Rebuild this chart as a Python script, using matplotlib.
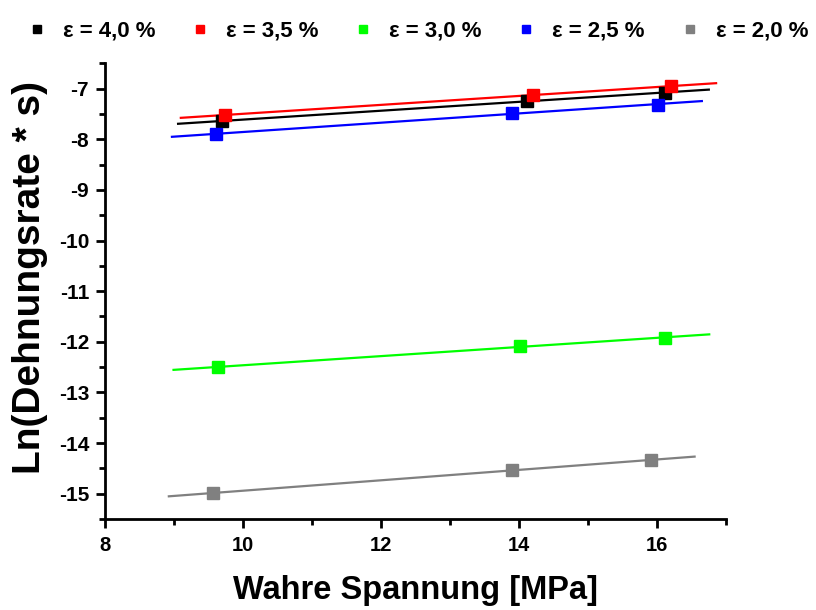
import numpy as np
import matplotlib
matplotlib.use("Agg")
import matplotlib.pyplot as plt
from matplotlib.ticker import MultipleLocator

plt.rcParams['font.family'] = ['Liberation Sans', 'DejaVu Sans']
plt.rcParams['font.weight'] = 'bold'
plt.rcParams['axes.unicode_minus'] = False

labels = ["ε = 4,0 %", "ε = 3,5 %", "ε = 3,0 %", "ε = 2,5 %", "ε = 2,0 %"]
colors = ["#000000", "#ff0000", "#00ff00", "#0000ff", "#808080"]

x_40 = [9.70, 14.11, 16.11]
y_40 = [-7.64, -7.245, -7.08]
x_35 = [9.745, 14.21, 16.21]
y_35 = [-7.52, -7.125, -6.95]
x_30 = [9.64, 14.01, 16.11]
y_30 = [-12.50, -12.09, -11.92]
x_25 = [9.61, 13.905, 16.01]
y_25 = [-7.90, -7.475, -7.32]
x_20 = [9.56, 13.905, 15.91]
y_20 = [-14.99, -14.53, -14.34]

series = [(x_40, y_40), (x_35, y_35), (x_30, y_30), (x_25, y_25), (x_20, y_20)]

fig = plt.figure(figsize=(8.16, 6.10), dpi=100)
ax = fig.add_axes([0.1287, 0.1492, 0.761, 0.747])

handles = []
for (xs, ys), c, lab in zip(series, colors, labels):
    xs = np.asarray(xs)
    ys = np.asarray(ys)
    # linear fit, drawn 10 % beyond the data range on each side
    k, d = np.polyfit(xs, ys, 1)
    span = xs.max() - xs.min()
    xf = np.array([xs.min() - 0.1 * span, xs.max() + 0.1 * span])
    ax.plot(xf, k * xf + d, color=c, lw=1.6, zorder=2)
    h, = ax.plot(xs, ys, 's', color=c, ms=8, mec=c, ls='none', zorder=3, label=lab)
    handles.append(h)

ax.set_xlim(8, 17)
ax.set_ylim(-15.5, -6.5)
ax.xaxis.set_major_locator(MultipleLocator(2))
ax.xaxis.set_minor_locator(MultipleLocator(1))
ax.yaxis.set_major_locator(MultipleLocator(1))
ax.yaxis.set_minor_locator(MultipleLocator(0.5))

for s in ['top', 'right']:
    ax.spines[s].set_visible(False)
for s in ['left', 'bottom']:
    ax.spines[s].set_linewidth(2.0)

ax.tick_params(which='major', direction='out', length=6.5, width=2)
ax.tick_params(which='minor', direction='out', length=4.5, width=2)
ax.tick_params(axis='y', which='major', labelsize=15, pad=5)
ax.tick_params(axis='x', which='major', labelsize=14.5, pad=6)
for t in ax.get_xticklabels() + ax.get_yticklabels():
    t.set_fontweight('bold')

ax.set_xlabel("Wahre Spannung [MPa]", fontsize=23.5, fontweight='bold', va='top')
ax.xaxis.set_label_coords(0.5, -0.122)
ax.set_ylabel("Ln(Dehnungsrate * s)", fontsize=28, fontweight='bold')
ax.yaxis.set_label_coords(-0.092, 0.53)

fig.legend(handles=handles, labels=labels, loc='center left',
           bbox_to_anchor=(28 / 816, 1 - 31 / 610),
           ncol=5, frameon=False, handlelength=0.8, handletextpad=0.77,
           columnspacing=1.61, markerscale=0.78, borderpad=0, borderaxespad=0,
           prop={'weight': 'bold', 'size': 16})

fig.savefig("out.png", dpi=100)
